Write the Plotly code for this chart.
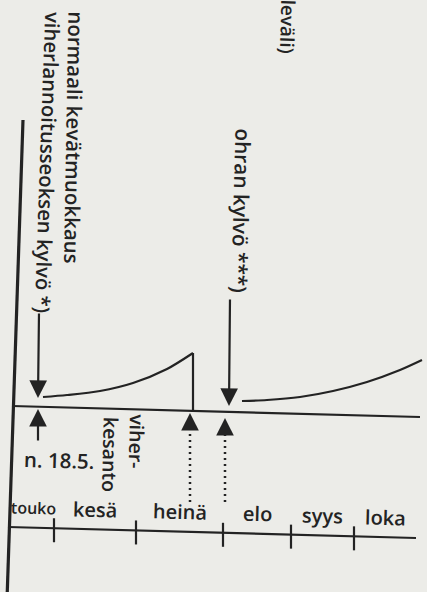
import plotly.graph_objects as go

# ---------------- data (schematic time units along the season) ----------------
MONTHS = ["touko", "kesä", "heinä", "elo", "syys", "loka"]
MONTH_EDGES_T = [8, 54, 136, 223, 291, 354, 416]

# growth curve of the green-manure fallow (viherkesanto)
FALLOW_T = [43, 67, 100, 133, 167, 193]
FALLOW_GROWTH = [13, 15, 19, 27, 41, 57]

# growth curve of barley after the fallow
BARLEY_T = [242, 267, 300, 333, 367, 400, 422]
BARLEY_GROWTH = [9, 10, 13, 19, 28, 40, 50]

# events (time units)
SPRING_SOWING_T = 38      # n. 18.5.
FALLOW_END_T = 190        # fallow ploughed in
BARLEY_SOWING_T = 228     # ohran kylvö

# ---------------- styling / layout helpers ----------------
W, H = 427, 592
BASE_PX = 410                 # pixel row of growth = 0
INK = "#232323"
BG = "#ececE8"
FONT = "Open Sans"
WEIGHT = 600
SKEW = 0.027                  # the scanned page is slightly rotated


def gy(px):
    """pixel row -> y value (1 unit = 1 px)"""
    return BASE_PX - px


def month_axis_px(x):
    return 527 + (x - 8) * SKEW


def base_px(x):
    return 406 + (x - 12) * SKEW


fig = go.Figure()

# growth curves
fig.add_trace(go.Scatter(x=FALLOW_T, y=FALLOW_GROWTH, mode="lines",
                         line=dict(color=INK, width=2.2, shape="spline", smoothing=0.8),
                         hoverinfo="skip", showlegend=False))
fig.add_trace(go.Scatter(x=[FALLOW_T[-1], FALLOW_T[-1]], y=[FALLOW_GROWTH[-1], gy(base_px(FALLOW_T[-1]))],
                         mode="lines", line=dict(color=INK, width=2.2),
                         hoverinfo="skip", showlegend=False))
fig.add_trace(go.Scatter(x=BARLEY_T, y=BARLEY_GROWTH, mode="lines",
                         line=dict(color=INK, width=2.2, shape="spline", smoothing=0.8),
                         hoverinfo="skip", showlegend=False))

shapes = []
# vertical axis line at left
shapes.append(dict(type="line", xref="x", yref="y", x0=23, y0=gy(120), x1=7, y1=gy(600),
                   line=dict(color=INK, width=3.2)))
# baseline
shapes.append(dict(type="line", xref="x", yref="y", x0=12, y0=gy(base_px(12)), x1=420, y1=gy(base_px(420)),
                   line=dict(color=INK, width=2.2)))
# month axis
x0m, x1m = MONTH_EDGES_T[0], MONTH_EDGES_T[-1]
shapes.append(dict(type="line", xref="x", yref="y", x0=x0m, y0=gy(month_axis_px(x0m)),
                   x1=x1m, y1=gy(month_axis_px(x1m)), line=dict(color=INK, width=2.2)))
for t in MONTH_EDGES_T[1:-1]:
    yc = month_axis_px(t)
    shapes.append(dict(type="line", xref="x", yref="y", x0=t, y0=gy(yc - 10), x1=t, y1=gy(yc + 14),
                       line=dict(color=INK, width=2.2)))

# dotted arrow shafts
for t, top_px in [(FALLOW_END_T, 425), (BARLEY_SOWING_T - 3, 430)]:
    shapes.append(dict(type="line", xref="x", yref="y", x0=t, y0=gy(502), x1=t, y1=gy(top_px),
                       line=dict(color=INK, width=2.5, dash="2px,4px")))

annotations = []


def arrow(x, tip_px, tail_px, tail_x=None):
    annotations.append(dict(x=x, y=gy(tip_px), ax=x if tail_x is None else tail_x, ay=gy(tail_px),
                            xref="x", yref="y", axref="x", ayref="y", text="",
                            showarrow=True, arrowhead=2, arrowsize=1.6, arrowwidth=2.2,
                            arrowcolor=INK))


# spring sowing arrows
arrow(SPRING_SOWING_T, 398, 312, SPRING_SOWING_T + 1)
arrow(SPRING_SOWING_T, 409, 442)
# fallow end (dotted) arrow head
arrow(FALLOW_END_T, 413, 427)
# barley sowing arrows
arrow(BARLEY_SOWING_T - 3, 418, 432)
arrow(BARLEY_SOWING_T + 1, 406, 298, BARLEY_SOWING_T + 2)


def text(s, x, ypx, angle=0, size=20, xanchor="center", yanchor="middle"):
    annotations.append(dict(x=x, y=gy(ypx), xref="x", yref="y", text=s, showarrow=False,
                            textangle=angle, xanchor=xanchor, yanchor=yanchor,
                            font=dict(family=FONT, size=size, color=INK, weight=WEIGHT)))


# rotated labels
text("normaali kevätmuokkaus", 74, 9, angle=91, size=20.5, yanchor="top")
text("viherlannoitusseoksen kylvö *)", 48, 9, angle=92, size=20.3, yanchor="top")
text("ohran kylvö ***)", 241, 126, angle=91.5, size=20.8, yanchor="top")
text("leväli)", 288, 56, angle=91.5, size=19, yanchor="bottom")
text("viher-", 137, 412, angle=91.5, size=19.5, yanchor="top")
text("kesanto", 110, 414, angle=91.5, size=19.5, yanchor="top")
text("n. 18.5.", 59, 460, angle=1.5, size=20.5)

# month labels
for i, m in enumerate(MONTHS):
    c = (MONTH_EDGES_T[i] + MONTH_EDGES_T[i + 1]) / 2
    text(m, c + (2 if i == 0 else 0), month_axis_px(c) - 20, angle=1.5, size=16 if i == 0 else 20)

fig.update_layout(
    width=W, height=H, autosize=False,
    margin=dict(l=0, r=0, t=0, b=0),
    paper_bgcolor=BG, plot_bgcolor=BG,
    xaxis=dict(range=[0, W], visible=False, fixedrange=True),
    yaxis=dict(range=[gy(H), gy(0)], visible=False, fixedrange=True),
    shapes=shapes, annotations=annotations,
)

fig.write_html("out.html", config={"displayModeBar": False, "staticPlot": True},
               post_script="document.body.style.margin='0';document.body.style.background='%s';" % BG)
